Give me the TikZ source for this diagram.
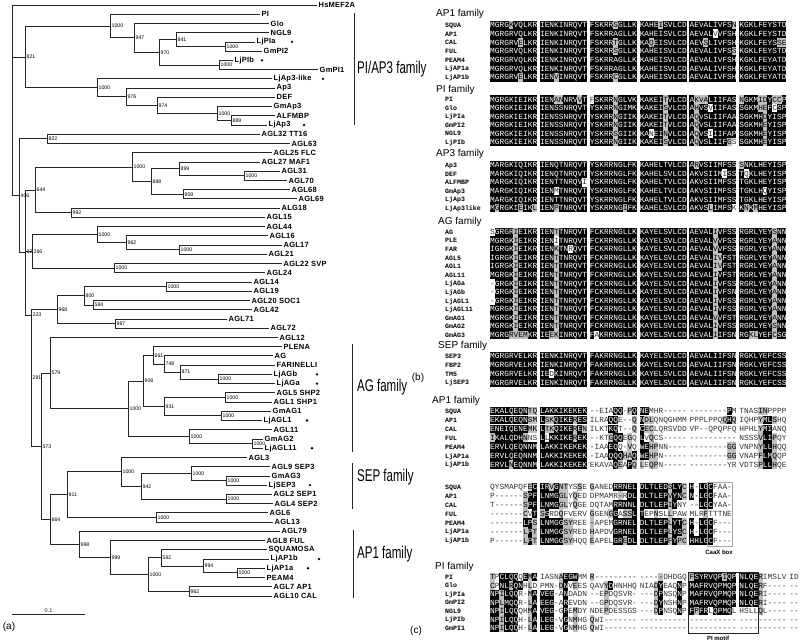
\documentclass[tikz,border=0pt]{standalone}
\usepackage{fontspec}
\newfontfamily\arial{Liberation Sans}
\newfontfamily\arialsp[LetterSpace=3]{Liberation Sans}
\newfontfamily\cour{Liberation Mono}
\pgfmathdeclarefunction{ly}{1}{\pgfmathparse{5+9.234*(#1-1)}}
\newcount\seqb
\newcount\seqc
\def\Bk{bbbbbbbbbb}
\tikzset{
 edge/.style={line width=0.85pt, black!85},
 lab/.style={font=\arialsp\bfseries\fontsize{7.5}{9}\selectfont, anchor=west, inner sep=1.5pt},
 boot/.style={font=\arial\fontsize{5.2}{6}\selectfont, anchor=west, inner sep=0.5pt, xshift=1pt},
 fam/.style={font=\arial\fontsize{17}{20}\selectfont, anchor=west, inner sep=0pt, xscale=0.68},
 hd/.style={font=\arial\fontsize{10}{12}\selectfont, anchor=west, inner sep=0pt},
 nm/.style={font=\cour\bfseries\fontsize{6.6}{8}\selectfont, anchor=base west, inner sep=0pt},
 sq/.style={font=\cour\fontsize{7.83}{8}\selectfont, anchor=base west, inner sep=0pt},
 mot/.style={font=\arial\bfseries\fontsize{6}{7}\selectfont, inner sep=0pt},
 pl/.style={font=\arial\fontsize{10}{12}\selectfont, inner sep=0pt},
 bar/.style={line width=0.9pt, black!85}
}
% tree helpers
\newcommand\lf[3]{\coordinate (L#1) at (#2,{ly(#1)}); \node[lab] (T#1) at (L#1) {#3};}
\newcommand\lfd[4]{\lf{#1}{#2}{#3}\fill (#4,{ly(#1)}) circle (1.3);}
\newcommand\nd[4]{\coordinate (#1) at (#2,{ly(#3)}); \node[boot] (B#1) at (#1) {#4};}
\newcommand\ed[2]{\draw[edge] (#1) |- (#2);}
% alignment helpers: codes b = black, g = grey, w/. = none
\newcommand\ccell[2]{%
 \pgfmathsetmacro\cx{490+49.85*\the\seqb+4.7*\the\seqc}%
 \if b#1\relax
   \fill[black] ({\cx-0.05},{\ry-\ch/2}) rectangle ({\cx+4.75},{\ry+\ch/2});
   \node[sq,text=white] at ({\cx},{\ry+2.6}) {#2};
 \else\if g#1\relax
   \fill[gray!50] ({\cx-0.05},{\ry-\ch/2}) rectangle ({\cx+4.75},{\ry+\ch/2});
   \node[sq] at ({\cx},{\ry+2.6}) {#2};
 \else
   \node[sq,text=black!80] at ({\cx},{\ry+2.6}) {#2};
 \fi\fi}
\def\rowloop#1#2\relax#3#4\relax{%
 \if|#3\relax \advance\seqb by 1 \seqc=0 \else \ccell{#1}{#3}\advance\seqc by 1 \fi
 \def\tmprest{#2}%
 \ifx\tmprest\empty\let\next\relax\else\def\next{\rowloop#2\relax#4\relax}\fi
 \next}
\newcommand\crow[4]{\node[nm] at (445,{#1+2.4}) {#2};
 \def\ry{#1}\seqb=0 \seqc=0 \edef\tmpcodes{#3}%
 \expandafter\rowloop\tmpcodes\relax#4\relax}

\begin{document}
\begin{tikzpicture}[x=1pt,y=-1pt]
\useasboundingbox (0,0) rectangle (800,641);
\fill[white] (0,0) rectangle (800,641);

% ---------------- leaves
\lf{1}{317}{HsMEF2A}
\lf{2}{260}{PI}
\lf{3}{269}{Glo}
\lf{4}{269}{NGL9}
\lfd{5}{255}{LjPIa}{292}
\lf{6}{262}{GmPI2}
\lfd{7}{233}{LjPIb}{262}
\lf{8}{318}{GmPI1}
\lfd{9}{272}{LjAp3-like}{323}
\lf{10}{275}{Ap3}
\lf{11}{275}{DEF}
\lf{12}{272}{GmAp3}
\lf{13}{275}{ALFMBP}
\lfd{14}{267}{LjAp3}{304}
\lf{15}{260}{AGL32 TT16}
\lf{16}{290}{AGL63}
\lf{17}{272}{AGL25 FLC}
\lf{18}{260}{AGL27 MAF1}
\lf{19}{280}{AGL31}
\lf{20}{287}{AGL70}
\lf{21}{290}{AGL68}
\lf{22}{297}{AGL69}
\lf{23}{280}{ALG18}
\lf{24}{265}{AGL15}
\lf{25}{265}{AGL44}
\lf{26}{268}{AGL16}
\lf{27}{282}{AGL17}
\lf{28}{267}{AGL21}
\lf{29}{282}{AGL22 SVP}
\lf{30}{265}{AGL24}
\lf{31}{252}{AGL14}
\lf{32}{252}{AGL19}
\lf{33}{250}{AGL20 SOC1}
\lf{34}{252}{AGL42}
\lf{35}{227}{AGL71}
\lf{36}{269}{AGL72}
\lf{37}{278}{AGL12}
\lf{38}{282}{PLENA}
\lf{39}{273}{AG}
\lf{40}{275}{FARINELLI}
\lfd{41}{272}{LjAGb}{317}
\lfd{42}{275}{LjAGa}{317}
\lf{43}{275}{AGL5 SHP2}
\lf{44}{272}{AGL1 SHP1}
\lf{45}{271}{GmAG1}
\lfd{46}{262}{LjAGL1}{307}
\lf{47}{272}{AGL11}
\lf{48}{263}{GmAG2}
\lfd{49}{263}{LjAGL11}{312}
\lf{50}{247}{AGL3}
\lf{51}{270}{AGL9 SEP3}
\lf{52}{270}{GmAG3}
\lfd{53}{267}{LjSEP3}{310}
\lf{54}{272}{AGL2 SEP1}
\lf{55}{273}{AGL4 SEP2}
\lf{56}{268}{AGL6}
\lf{57}{273}{AGL13}
\lf{58}{280}{AGL79}
\lf{59}{265}{AGL8 FUL}
\lf{60}{267}{SQUAMOSA}
\lfd{61}{269}{LjAP1b}{319}
\lfd{62}{265}{LjAP1a}{308}
\lf{63}{265}{PEAM4}
\lf{64}{272}{AGL7 AP1}
\lf{65}{272}{AGL10 CAL}

% ---------------- internal nodes
\nd{a6}{225}{5.5}{1000}      \ed{a6}{L5}\ed{a6}{L6}
\nd{a4}{176}{4.75}{841}      \ed{a4}{L4}\ed{a4}{a6}
\nd{a5}{219}{7.5}{1000}      \ed{a5}{L7}\ed{a5}{L8}
\nd{a3}{159}{6.125}{970}     \ed{a3}{a4}\ed{a3}{a5}
\nd{a2}{134}{4.5625}{947}    \ed{a2}{L3}\ed{a2}{a3}
\nd{a1}{110}{3.28125}{1000}  \ed{a1}{L2}\ed{a1}{a2}
\nd{b5}{231}{13.5}{889}      \ed{b5}{L13}\ed{b5}{L14}
\nd{b4}{217}{12.75}{1000}    \ed{b4}{L12}\ed{b4}{b5}
\nd{b3}{157}{11.875}{974}    \ed{b3}{L11}\ed{b3}{b4}
\nd{b2}{126}{10.9375}{976}   \ed{b2}{L10}\ed{b2}{b3}
\nd{b1}{97}{9.96875}{1000}   \ed{b1}{L9}\ed{b1}{b2}
\nd{c821}{25}{6.625}{821}    \ed{c821}{a1}\ed{c821}{b1}
\nd{d822}{47}{15.5}{822}     \ed{d822}{L15}\ed{d822}{L16}
\nd{e1000b}{244}{19.5}{1000} \ed{e1000b}{L19}\ed{e1000b}{L20}
\nd{e899}{179}{18.75}{899}   \ed{e899}{L18}\ed{e899}{e1000b}
\nd{e959}{183}{21.5}{959}    \ed{e959}{L21}\ed{e959}{L22}
\nd{e888}{151}{20.125}{888}  \ed{e888}{e899}\ed{e888}{e959}
\nd{e1000}{132}{18.5625}{1000} \ed{e1000}{L17}\ed{e1000}{e888}
\nd{e992}{71}{23.5}{992}     \ed{e992}{L23}\ed{e992}{L24}
\nd{e644}{35}{21.03}{644}    \ed{e644}{e1000}\ed{e644}{e992}
\nd{f1000b}{179}{27.5}{1000} \ed{f1000b}{L27}\ed{f1000b}{L28}
\nd{f962}{126}{26.75}{962}   \ed{f962}{L26}\ed{f962}{f1000b}
\nd{f1000}{97}{25.875}{1000} \ed{f1000}{L25}\ed{f1000}{f962}
\nd{f1000c}{114}{29.5}{1000} \ed{f1000c}{L29}\ed{f1000c}{L30}
\nd{f266}{32}{27.69}{266}    \ed{f266}{f1000}\ed{f266}{f1000c}
\nd{g1000}{166}{31.5}{1000}  \ed{g1000}{L31}\ed{g1000}{L32}
\nd{g584}{93}{33.5}{584}     \ed{g584}{L33}\ed{g584}{L34}
\nd{g800}{84}{32.5}{800}     \ed{g800}{g1000}\ed{g800}{g584}
\nd{g987}{115}{35.5}{987}    \ed{g987}{L35}\ed{g987}{L36}
\nd{g968}{57}{34}{968}       \ed{g968}{g800}\ed{g968}{g987}
\nd{h1000a}{218}{41.5}{1000} \ed{h1000a}{L41}\ed{h1000a}{L42}
\nd{h871}{180}{40.75}{871}   \ed{h871}{L40}\ed{h871}{h1000a}
\nd{h748}{164}{39.875}{748}  \ed{h748}{L39}\ed{h748}{h871}
\nd{h661}{153}{38.9375}{661} \ed{h661}{L38}\ed{h661}{h748}
\nd{h1000b}{225}{43.5}{1000} \ed{h1000b}{L43}\ed{h1000b}{L44}
\nd{h1000c}{221}{45.5}{1000} \ed{h1000c}{L45}\ed{h1000c}{L46}
\nd{h931}{164}{44.5}{931}    \ed{h931}{h1000b}\ed{h931}{h1000c}
\nd{h908}{143}{41.72}{908}   \ed{h908}{h661}\ed{h908}{h931}
\nd{h1000d}{252}{48.5}{1000} \ed{h1000d}{L48}\ed{h1000d}{L49}
\nd{h1000e}{189}{47.75}{1000} \ed{h1000e}{L47}\ed{h1000e}{h1000d}
\nd{h1000}{128}{44.73}{1000} \ed{h1000}{h908}\ed{h1000}{h1000e}
\nd{h579}{50}{40.87}{579}    \ed{h579}{L37}\ed{h579}{h1000}
\nd{i1000b}{226}{52.5}{1000} \ed{i1000b}{L52}\ed{i1000b}{L53}
\nd{i1000a}{191}{51.75}{1000} \ed{i1000a}{L51}\ed{i1000a}{i1000b}
\nd{i1000c}{226}{54.5}{1000} \ed{i1000c}{L54}\ed{i1000c}{L55}
\nd{i942}{141}{53.125}{942}  \ed{i942}{i1000a}\ed{i942}{i1000c}
\nd{i1000}{121}{51.5625}{1000} \ed{i1000}{L50}\ed{i1000}{i942}
\nd{i1000f}{156}{56.5}{1000} \ed{i1000f}{L56}\ed{i1000f}{L57}
\nd{i911}{67}{54.03}{911}    \ed{i911}{i1000}\ed{i911}{i1000f}
\nd{j1000a}{237}{62.5}{1000} \ed{j1000a}{L62}\ed{j1000a}{L63}
\nd{j994}{203}{61.75}{994}   \ed{j994}{L61}\ed{j994}{j1000a}
\nd{j592}{161}{60.875}{592}  \ed{j592}{L60}\ed{j592}{j994}
\nd{j962}{189}{64.5}{962}    \ed{j962}{L64}\ed{j962}{L65}
\nd{j1000}{148}{62.6875}{1000} \ed{j1000}{j592}\ed{j1000}{j962}
\nd{j999}{110}{60.84}{999}   \ed{j999}{L59}\ed{j999}{j1000}
\nd{j998}{79}{59.42}{998}    \ed{j998}{L58}\ed{j998}{j999}
\nd{k664}{50}{56.73}{664}    \ed{k664}{i911}\ed{k664}{j998}
\nd{k573}{41}{48.8}{573}     \ed{k573}{h579}\ed{k573}{k664}
\nd{n223}{31}{34.57}{223}    \ed{n223}{g968}\ed{n223}{k573}
\nd{k281}{31}{41.39}{281}
\nd{n32}{25}{27.75}{32}      \ed{n32}{e644}\ed{n32}{f266}\ed{n32}{n223}
\nd{n406}{19}{21.625}{406}   \ed{n406}{d822}\ed{n406}{n32}
\coordinate (root) at (12,{ly(1)});
\ed{root}{L1}\ed{root}{c821}\ed{root}{n406}

% scale bar and label
\coordinate (sb1) at (12,614); \coordinate (sb2) at (85,614);
\draw[edge] (sb1) -- (sb2) node[midway, above=1pt, font=\arial\fontsize{5.5}{6}\selectfont, inner sep=0pt] (sbl) {0.1};
\node[pl] (pa) at (9,627) {(a)};

% family bars
\coordinate (fa1) at (354,13); \coordinate (fa2) at (354,125);
\draw[bar] (fa1) -- (fa2); \node[fam] (fpi) at (357,69) {PI/AP3 family};
\coordinate (fb1) at (352,344); \coordinate (fb2) at (352,452);
\draw[bar] (fb1) -- (fb2); \node[fam] (fag) at (357,387) {AG family};
\coordinate (fc1) at (352,463); \coordinate (fc2) at (352,509);
\draw[bar] (fc1) -- (fc2); \node[fam] (fsep) at (357,477) {SEP family};
\coordinate (fd1) at (353,530); \coordinate (fd2) at (353,598);
\draw[bar] (fd1) -- (fd2); \node[fam] (fap1) at (357,554) {AP1 family};

% ---------------- panel (b)
\node[pl] (pb) at (418,378) {(b)};
\def\ch{8.7}
\node[hd] (hb1) at (436,14) {AP1 family};
\crow{25}{SQUA}{bbbbgbbbbb|\Bk|bbbbbgbbbb|bbbbgbbbbb|bbbbbbbbbg|\Bk}{MGRGKVQLKR|IENKINRQVT|FSKRRSGLLK|KAHEISVLCD|AEVALIVFSN|KGKLFEYSTD}
\crow{33.7}{AP1}{\Bk|\Bk|\Bk|\Bk|bbbbbwbbbb|\Bk}{MGRGRVQLKR|IENKINRQVT|FSKRRAGLLK|KAHEISVLCD|AEVALVVFSH|KGKLFEYSTD}
\crow{42.4}{CAL}{bbbbbbgbbb|\Bk|bbbbbgbbbb|bbgbbbbbbb|bbbgbbbbbb|bbbbbbbbgg}{MGRGRVELKR|IENKINRQVT|FSKRRTGLLK|KAQEISVLCD|AEVSLIVFSH|KGKLFEYSSE}
\crow{51.1}{FUL}{\Bk|\Bk|bbbbbgbbbb|\Bk|bbbbbbbbbg|\Bk}{MGRGRVQLKR|IENKINRQVT|FSKRRSGLLK|KAHEISVLCD|AEVALIVFSS|KGKLFEYSTD}
\crow{59.8}{PEAM4}{\Bk|\Bk|\Bk|\Bk|\Bk|\Bk}{MGRGRVQLKR|IENKINRQVT|FSKRRAGLLK|KAHEISVLCD|AEVALIVFSH|KGKLFEYATD}
\crow{68.5}{LjAP1a}{\Bk|\Bk|\Bk|\Bk|\Bk|\Bk}{MGRGRVQLKR|IENKINRQVT|FSKRRAGLLK|KAHEISVLCD|AEVALIVFSH|KGKLFEYATD}
\crow{77.2}{LjAP1b}{bbbbbbgbbb|bbbgbbbbbb|bbbbbgbbbb|\Bk|\Bk|\Bk}{MGRGRVELKR|IENVINRQVT|FSKRRCGLLK|KAHEISVLCD|AEVALIVFSH|KGKLFEYATD}

\def\ch{8.5}
\node[hd] (hb2) at (436,90) {PI family};
\crow{99.5}{PI}{\Bk|bbbggbbbgb|wbbbbgbbbb|bbbbbgbbbb|bgggbbbbbb|gbbbggbggb}{MGRGKIEIKR|IENANNRVVT|FSKRRNGLVK|KAKEITVLCD|AKVALIIFAS|NGKMIDYCCP}
\crow{108}{Glo}{\Bk|\Bk|bbbbbgbbbb|bbbbbgbbbb|bgbbwbbbbb|bbbbggbwbb}{MGRGKIEIKR|IENSSNRQVT|YSKRRNGIMK|KAKEISVLCD|AHVSVIIFAS|SGKMHEFCSP}
\crow{116.5}{LjPIa}{\Bk|\Bk|bbbbbgbbbb|bbbbbgbbbb|bgbbbbbbbb|bbbbbgbbbb}{MGRGKIEIKR|IENSSNRQVT|YSKRRNGIIK|KAKEITVLCD|AQVSLIIFAA|SGKMHDYISP}
\crow{125}{GmPI2}{\Bk|\Bk|bbbbbgbbbb|bbbbbgbbbb|bgbbbbbbbb|bbbbbgbbbb}{MGRGKIEIKR|IENSSNRQVT|YSKRRNGIIK|KAKEITVLCD|AQVSLIIFAA|SGKMHEYISP}
\crow{133.5}{NGL9}{\Bk|\Bk|bbbbbgbbbb|bbwbbgbbbb|bgbbwbbbbb|bbbbbgbbbb}{MGRGKIEIKR|IENSSNRQVT|YSKRRSGIIK|KANEINVLCD|AQVSIIIFAP|SGKMHEYISP}
\crow{142}{LjPIb}{\Bk|\Bk|bbbbbgbbbb|bbbbbgbbbb|bgbbbbbbgw|bbbbbgbbbb}{MGRGKIEIKR|IENSSNRQVT|YSKRRNGIIK|KAKEISVLCD|AQVSLIIFGS|SGKMHEYISP}

\def\ch{8.6}
\node[hd] (hb3) at (436,154) {AP3 family};
\crow{165}{Ap3}{\Bk|\Bk|\Bk|\Bk|bgbbbbbbbb|gbbbbbbbbb}{MARGKIQIKR|IENQTNRQVT|YSKRRNGLFK|KAHELTVLCD|ARVSIIMFSS|SNKLHEYISP}
\crow{173.6}{DEF}{\Bk|\Bk|\Bk|\Bk|bbbbbbbwbb|bwbbbbbbbb}{MARGKIQIKR|IENQTNRQVT|YSKRRNGLFK|KAHELSVLCD|AKVSIIMISS|TQKLHEYISP}
\crow{182.2}{ALFMBP}{\Bk|bbbbbbbbbw|\Bk|\Bk|\Bk|\Bk}{MARGKIQIKR|IENTTNRQVI|YSKRRNGLFK|KAHELTVLCD|AKVSIIMFSS|TGKLHEYISP}
\crow{190.8}{GmAp3}{\Bk|bbbwbbbbbb|\Bk|\Bk|\Bk|bbbbbwbbbb}{MARGKIQIKR|IENMTNRQVT|YSKRRNGLFK|KAHELTVLCD|AKVSIIMFSS|TGKLHQYISP}
\crow{199.4}{LjAp3}{\Bk|\Bk|\Bk|\Bk|\Bk|\Bk}{MARGKIQIKR|IENTTNRQVT|YSKRRNGLFK|KAHELTVLCD|AKVSIIMFSS|TGKLHEYISP}
\crow{208}{LjAp3like}{bgbbbbgbbg|bbbgbbbbbb|bbbbbbbgbb|\Bk|bbbbgbbbbw|bgbgbbbbbb}{MGRGKIEIKL|IENPTNRQVT|YSKRRNGIFK|KAHELSVLCD|AKVSLIMFSK|KNKMHEYISP}

\def\ch{8.58}
\node[hd] (hb4) at (438,222) {AG family};
\def\Ag{bbbbbgbbbb|bbbgbbbbbb|\Bk|\Bk|bbbbbgbbbb|bbbbbbbgbb}
\crow{232}{AG}{wbbbbgbbbb|bbbgbbbbbb|\Bk|\Bk|bbbbbgbbbb|bbbbbbbgbb}{SGRGRIEIKR|IENTTNRQVT|FCKRRNGLLK|KAYELSVLCD|AEVALIVFSS|RGRLYEYSNN}
\crow{240.58}{PLE}{bbbbbgbbbb|bbbwbbbbbb|\Bk|\Bk|bbbbbgbbbb|bbbbbbbgbb}{MGRGKIEIKR|IENITNRQVT|FCKRRNGLLK|KAYELSVLCD|AEVALVVFSS|RGRLYEYANN}
\crow{249.16}{FAR}{bbbbbgbbbb|bbbgbbwbbb|\Bk|\Bk|bbbbbgbbbb|bbbbbbbgbb}{IGRGKIEIKR|IENKTNRQVT|FCKRRNGLLK|KAYELSVLCD|AEVALVVFSS|RGRLYEYANN}
\crow{257.74}{AGL5}{bbbbbgbbbb|bbbgbbbbbb|\Bk|\Bk|bbbbbggbbb|bbbbbbbgbb}{IGRGKIEIKR|IENTTNRQVT|FCKRRNGLLK|KAYELSVLCD|AEVALIVFST|RGRLYEYANN}
\crow{266.32}{AGL1}{bbbbbgbbbb|bbbgbbbbbb|\Bk|\Bk|bbbbbggbbb|bbbbbbbgbb}{IGRGKIEIKR|IENTTNRQVT|FCKRRNGLLK|KAYELSVLCD|AEVALIVFST|RGRLYEYANN}
\crow{274.9}{AGL11}{\Ag}{MGRGKIEIKR|IENTTNRQVT|FCKRRNGLLK|KAYELSVLCD|AEVALIVFST|RGRLYEYANN}
\crow{283.48}{LjAGa}{wbbbbgbbbb|bbbgbbbbbb|\Bk|\Bk|bbbbbgbbbb|bbbbbbbgbb}{-GRGKIEIKR|IENTTNRQVT|FCKRRNGLLK|KAYELSVLCD|AEVALIVFSS|RGRLYEYANN}
\crow{292.06}{LjAGb}{wbbbbgbbbb|bbbgbbbbbb|\Bk|\Bk|bbbbbgbbbb|bbbbbbbgbb}{-GRGKIEIKR|IENTTNRQVT|FCKRRNGLLK|KAYELSVLCD|AEVALIVFSN|RGRLYEYANN}
\crow{300.64}{LjAGL1}{wbbbbgbbbb|bbbgbbbbbb|\Bk|\Bk|bbbbbgbbbb|bbbbbbbgbb}{-GRGKIEIKR|IENTTNRQVT|FCKRRNGLLK|KAYELSVLCD|AEVALIVFSS|RGRLYEYANN}
\crow{309.22}{LjAGL11}{\Ag}{MGRGKIEIKR|IENTTNRQVT|FCKRRNGLLK|KAYELSVLCD|AEVALIVFSS|RGRLYEYANN}
\crow{317.8}{GmAG1}{\Ag}{MGRGKIEIKR|IENTTNRQVT|FCKRRNGLLK|KAYELSVLCD|AEVALVVFST|RGRLYEYANN}
\crow{326.38}{GmAG2}{\Ag}{MGRGKIEIKR|IENTTNRQVT|FCKRRNGLLK|KAYELSVLCD|AEVALIVFSS|RGRLYEYSNN}
\crow{334.96}{GmAG3}{bbbbggggbb|bbggbbbbbb|bwbbbbbbbb|\Bk|bbbbbgbbbb|bbggbbbgbb}{MGRGRVEMKR|IEEKINRQVT|FAKRRNGLLK|KAYELSVLCD|AEVALIIFSN|RGKLYEFCSG}

\def\ch{8.8}
\node[hd] (hb5) at (438,346) {SEP family};
\crow{356}{SEP3}{\Bk|\Bk|\Bk|\Bk|\Bk|\Bk}{MGRGRVELKR|IENKINRQVT|FAKRRNGLLK|KAYELSVLCD|AEVALIIFSN|RGKLYEFCSS}
\crow{364.8}{FBP2}{\Bk|\Bk|\Bk|\Bk|\Bk|\Bk}{MGRGRVELKR|IENKINRQVT|FAKRRNGLLK|KAYELSVLCD|AEVALIIFSN|RGKLYEFCSS}
\crow{373.6}{TM5}{\Bk|bbwbbbbbbb|\Bk|\Bk|\Bk|\Bk}{MGRGRVELKR|IEDKINRQVT|FAKRRNGLLK|KAYELSVLCD|AEVALIIFSN|RGKLYEFCSS}
\crow{382.4}{LjSEP3}{\Bk|\Bk|\Bk|\Bk|\Bk|\Bk}{MGRGRVELKR|IENKINRQVT|FAKRRNGLLK|KAYELSVLCD|AEVALIIFSN|RGKLYEFCSS}

% ---------------- panel (c)
\node[pl] (pc) at (416,631) {(c)};
\def\ch{8.9}
\node[hd] (hc1) at (432,401) {AP1 family};
\crow{411}{SQUA}{bbbbbbbbgg|bbbbbbbbbb|.....bb.gb|bb........|........b.|....gg....}{EKALQEQNTQ|LAKKIKEKEK|--EIAQQ-PQ|NEMHR-----|--------PM|TNASINPPPP}
\crow{420}{AP1}{bbbbbbbbgg|bggbbbbgbb|....bb...g|bgg.......|.......gbg|....gbbg..}{EKALQEQNSM|LSKQIKERES|ILRAQQE--Q|NDLQNQGHMM|PPPLPPQQHQ|IQHPYMLSHQ}
\crow{429}{CAL}{bbbbbbbbgg|bggbbbbgbg|....bb...g|bgg.......|..........|....gbb...}{ENEIQENEMK|LTKQIKEREN|ILKTKQT--Q|CECLQRSVDD|VP--QPQPFQ|HPHLYMIANQ}
\crow{437.8}{FUL}{gbbbbbbg..|b.bbbbbgbb|....gbb.g.|b.g.......|..........|....gbbg..}{IKALQDHNNS|LLKKIKEREK|--KTGQQEGQ|LVQCS-----|----------|NSSSVLIPQY}
\crow{446.7}{PEAM4}{bbbbbbbbbb|bbbbbbbbbb|....bb..g.|bbgg......|........gg|....gbbg..}{ERVLQEQNNM|LAKKIKEKEK|-IAAEQQ-VQ|WEHPNN----|--------GG|VNPNYLLHQQ}
\crow{455.6}{LjAP1a}{bbbbbbbbbb|bbbbbbbbbb|....bbbggb|bbgg......|........gg|....gbbg..}{ERVLQEQNNM|LAKKIKEKEK|-IAAQQQHAQ|WEHPN-----|--------GG|VNAPFLMQQP}
\crow{464.5}{LjAP1b}{bbbbgbbbbb|bbbbbbbbbb|.....bg.bg|g.gg......|..........|....gbbg..}{ERVLNEQNNM|LAKKIKEKEK|EKAVAQEAPQ|LEQPN-----|--------YR|VDTSPLLHQE}

\crow{487}{SQUA}{........gb|bbgbgg..g.|g....bbbbb|bbbbbbgbbg|b.bbb....}{QYSMAPQFEC|IRVGNTYSSE|GANEDRRNEL|DLTLEDSLYC|H-LGCFAA-}
\crow{495.9}{AP1}{.......gbb|bbbbgg.g..|......g.bb|bbbbbbgbbg|b.bbb....}{P------SPF|LNMGGLYQED|DPMAMR-RDL|DLTLEPVYNC|N-LGCFAA-}
\crow{504.8}{CAL}{.......gbb|bbbbgg.g..|.....bbbbb|bbbbbbgb..|..bbb....}{T------SPF|LNMGGLYQGE|DQTAMRRNNL|DLTLEPIYNY|--LGCYAA-}
\crow{513.7}{FUL}{.......g.b|gb..g.....|g...gb.ggb|b..g..g...|...g.....}{-------CVT|SSRDQFVERV|GGENGGASSL|TEPNSLLPAW|MLRPTTTNE}
\crow{522.6}{PEAM4}{.......bbg|bbbbbgg...|g....bbbbb|bbbbbbgbbg|b.bbb....}{-------LPS|LNMGGSYREE|-APEMGRNEL|DLTLEPLYTC|H-LGCF---}
\crow{531.5}{LjAP1a}{.......gbg|bbbbbgg...|g....bbbbb|bbbbbbgbbg|b.bbb....}{-------LPT|LNMGGSYRED|HAPDVGRNEL|DLTLEPLYSC|H-LGCF---}
\crow{540.4}{LjAP1b}{.......gbg|bbbbbgg...|g....bbgbb|bbbbbbgbgg|bbbbb....}{P------LPT|LNMGGSYHQQ|EAPELGREDL|DLTLEPFYPC|HHLGCF---}
\coordinate (cx1) at (707.5,482); \coordinate (cx2) at (732.5,546);
\draw[gray!70, line width=0.6pt] (cx1) rectangle (cx2);
\node[mot] (caax) at (719,552) {CaaX box};

\node[hd] (hc2) at (435,567) {PI family};
\crow{577}{PI}{g.bbbb.bgb|....gbbb..|g.........|....g.....|gbbbbbbgbb|bbbbg.....|..}{TPCLQQQEMA|IASNAEGWMM|R---------|-----DHDGQ|FSYRVQPIQP|NLQERIMSLV|ID}
\crow{585.5}{Glo}{g.bbgbb.g.|....gb.g..|...gb.....|...gb...b.|bbbbbbbbbb|bbbbg.....|..}{CPNLRQNHLD|PMN-DNVEES|QAVYDHNHHQ|NIADYEAQNP|MAFRVQPMQP|NLQERF----|--}
\crow{594}{LjPIa}{bbgbbb..gb|bbb..b....|...g......|...gb...b.|bbbbbbbbbb|bbbbg.....|..}{NPILQQR-MA|VEG-ANDADN|--EPDQSVR-|---DPNSQNP|MAFRVQPMQP|NLQERI----|--}
\crow{602.5}{GmPI2}{bbgbbb..gb|bbb..b....|...g......|...gb...b.|bbbbbbbbbb|bbbbg.....|..}{NPLMQQR-LA|EEG-AREVDN|--GPDQSVR-|---DYNSHNP|MAFRVQPMQP|NLQERI----|--}
\crow{611}{NGL9}{bbgbbb..gb|bbb..b.g..|...g......|...gb...b.|bgbb.bbbb.|....g.....|..}{NPILQQQHMA|VEG-GPEMDY|NDEPDESSGS|---DPNSQNP|FPFRLQPMQL|HSLLQL----|--}
\crow{619.5}{LjPIb}{bbgbbb..gb|bbb..b.g..|g.........|..........|..........|..........|..}{NPILQQH-LA|LEG-VGNMHG|QWI-------|----------|----------|----------|--}
\crow{628}{GmPI1}{bbgbbb..gb|bbb..b.g..|g.........|..........|..........|..........|..}{NPILQQH-LA|LEG-VGNMHG|QWI-------|----------|----------|----------|--}
\coordinate (pm1) at (688,572); \coordinate (pm2) at (758.5,633);
\draw[gray!30!black, line width=0.6pt] (pm1) rectangle (pm2);
\node[mot] (pimot) at (718,638.5) {PI motif};
\end{tikzpicture}
\end{document}
